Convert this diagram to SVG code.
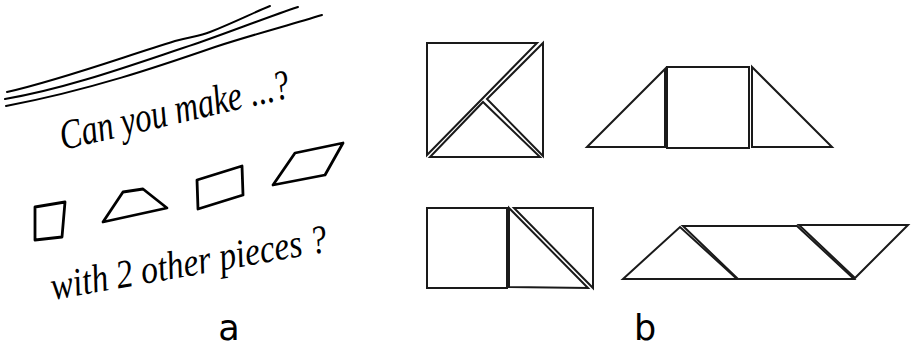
<svg xmlns="http://www.w3.org/2000/svg" width="912" height="349" viewBox="0 0 912 349">
<style>
.bg{fill:#fff}
.wave{fill:none;stroke:#000;stroke-width:2;stroke-linecap:round}
.sketch{fill:none;stroke:#000;stroke-width:2.8;stroke-linejoin:round;stroke-linecap:round}
.piece{fill:#fff;stroke:#1a1a1a;stroke-width:2;stroke-linejoin:miter}
.hand{font-family:"Liberation Serif","DejaVu Serif",serif;font-style:italic;fill:#000}
.label{font-family:"DejaVu Sans","Liberation Sans",sans-serif;font-size:35px;fill:#000;text-anchor:middle}
</style>
<rect class="bg" x="0" y="0" width="912" height="349"/>
<g id="panel-a">
  <g id="waves">
    <path class="wave" d="M7,92 C60,80 120,58 175,41 C195,36 200,36 210,32 C235,22 255,12 270,6"/>
    <path class="wave" d="M5,99 C70,88 140,62 195,44 C230,32 265,18 298,7"/>
    <path class="wave" d="M6,106 C90,90 160,66 215,47 C255,34 290,25 322,15"/>
  </g>
  <text class="hand" x="63" y="150" font-size="42" textLength="235" lengthAdjust="spacingAndGlyphs" transform="rotate(-13 63 150)">Can you make ...?</text>
  <g id="sketch-shapes">
    <path class="sketch" d="M35,207 L65,202 L62,237 L35,240 Z"/>
    <path class="sketch" d="M103,222 L123,192 L143,189 L167,208 Z"/>
    <path class="sketch" d="M197,180 L242,166 L243,195 L198,209 Z"/>
    <path class="sketch" d="M273,185 L295,153 L343,143 L325,175 Z"/>
  </g>
  <text class="hand" x="53" y="300" font-size="40" textLength="280" lengthAdjust="spacingAndGlyphs" transform="rotate(-10 53 300)">with 2 other pieces ?</text>
</g>
<g id="panel-b">
  <g id="square-3">
    <polygon class="piece" points="427,43 537,43 427,155"/>
    <polygon class="piece" points="543,43 543,156 487,99"/>
    <polygon class="piece" points="430,157 540,157 483,102"/>
  </g>
  <g id="trapezoid-3">
    <polygon class="piece" points="587,147 665,69 665,147"/>
    <rect class="piece" x="667" y="67" width="82" height="81"/>
    <polygon class="piece" points="752,67 752,147 832,147"/>
  </g>
  <g id="rectangle-3">
    <rect class="piece" x="427" y="208" width="80" height="80"/>
    <polygon class="piece" points="509,208 509,287 588,288"/>
    <polygon class="piece" points="514,208 593,208 593,288"/>
  </g>
  <g id="parallelogram-3">
    <polygon class="piece" points="623,279 680,227 737,279"/>
    <polygon class="piece" points="683,226 797,226 854,279 738,279"/>
    <polygon class="piece" points="799,225 908,225 855,278"/>
  </g>
</g>
<g id="labels">
  <text class="label" x="229" y="340">a</text>
  <text class="label" x="645" y="340">b</text>
</g>
<g id="connectors"/>
</svg>
